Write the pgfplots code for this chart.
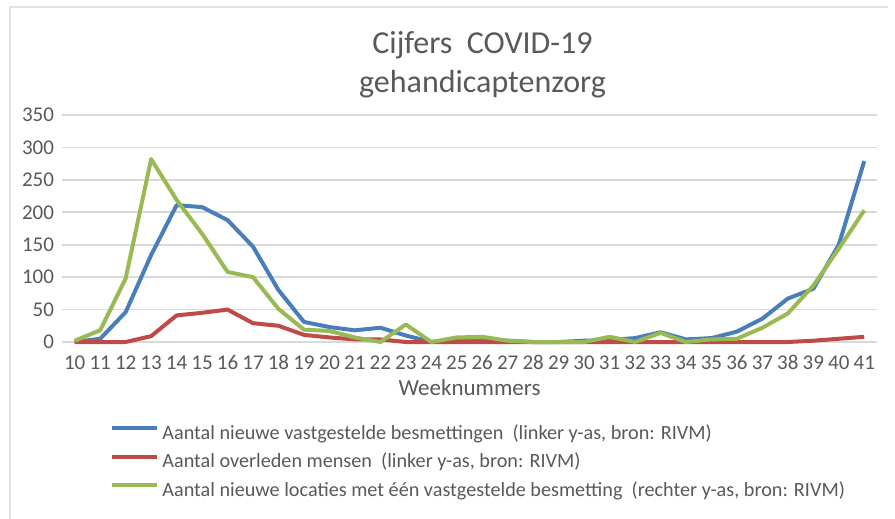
\documentclass[border=0pt]{standalone}
\usepackage{pgfplots}
\pgfplotsset{compat=1.18}
\usepackage{fontspec}
\setmainfont{Carlito}

\definecolor{txtgray}{HTML}{595959}
\definecolor{gridgray}{HTML}{D9D9D9}
\definecolor{xlblue}{HTML}{4A7EBB}
\definecolor{xlred}{HTML}{BE4B48}
\definecolor{xlgreen}{HTML}{98B954}

\begin{document}
\begin{tikzpicture}
% page = 895 x 519 px, 1 px = 0.5pt
\useasboundingbox (0,0) rectangle (447.5pt,-259.5pt);
\draw[gray!22, line width=1pt] (5pt,-259.5pt) -- (5pt,-3.5pt) -- (444pt,-3.5pt);
\begin{axis}[
    at={(31pt,-171pt)}, anchor=south west,
    scale only axis,
    width=407.5pt, height=113.5pt,
    xmin=9.5, xmax=41.5,
    ymin=0, ymax=350,
    xtick={10,...,41},
    ytick={0,50,...,350},
    ymajorgrids,
    grid style={gridgray, line width=0.8pt},
    axis line style={draw=none},
    major tick length=0pt,
    clip=false,
    /pgf/number format/assume math mode=true,
    tick label style={font=\fontsize{10.5}{12}\selectfont, text=txtgray},
    xticklabel style={anchor=base, yshift=-13.5pt},
    yticklabel style={xshift=-0.5pt},
    xlabel={Weeknummers},
    xlabel style={at={(axis description cs:0.5,0)}, anchor=center, yshift=-23pt,
        font=\fontsize{11.5}{13}\selectfont, text=txtgray},
    title={Cijfers\ \ COVID-19\\[3pt]gehandicaptenzorg},
    title style={at={(axis description cs:0.516,1.315)}, anchor=north, align=center,
        inner sep=0pt, font=\fontsize{16}{16.5}\selectfont, text=txtgray},
    legend style={at={(axis description cs:0.0589,-0.366)}, anchor=north west,
        draw=none, fill=none, inner sep=0pt, row sep=5.25pt,
        font=\fontsize{10.1}{12}\selectfont, text=txtgray,
        nodes={text height=7pt, text depth=2pt, inner ysep=0pt, inner xsep=1.5pt}},
    legend cell align=left,
    legend image code/.code={\draw[#1] (0pt,3pt) -- (22.5pt,3pt);},
    every axis plot/.append style={line width=2pt, line join=round},
]
\addplot[xlblue] coordinates {
 (10,0) (11,5) (12,46) (13,134) (14,211) (15,208) (16,188) (17,147) (18,80)
 (19,31) (20,23) (21,18) (22,22) (23,10) (24,0) (25,4) (26,5) (27,2) (28,0)
 (29,0) (30,2) (31,3) (32,6) (33,15) (34,4) (35,6) (36,16) (37,36) (38,67)
 (39,82) (40,150) (41,279)
};
\addlegendentry{Aantal nieuwe vastgestelde besmettingen\ \ (linker y-as, bron: RIVM)}
\addplot[xlred] coordinates {
 (10,0) (11,0) (12,0) (13,9) (14,41) (15,45) (16,50) (17,29) (18,25) (19,11)
 (20,7) (21,4) (22,4) (23,0) (24,0) (25,0) (26,0) (27,0) (28,0) (29,0) (30,0)
 (31,0) (32,0) (33,0) (34,0) (35,0) (36,0) (37,0) (38,0) (39,2) (40,5) (41,8)
};
\addlegendentry{Aantal overleden mensen\ \ (linker y-as, bron: RIVM)}
\addplot[xlgreen] coordinates {
 (10,2) (11,18) (12,98) (13,282) (14,219) (15,167) (16,108) (17,100) (18,51)
 (19,19) (20,17) (21,7) (22,0) (23,27) (24,0) (25,7) (26,8) (27,2) (28,0)
 (29,0) (30,0) (31,8) (32,0) (33,14) (34,0) (35,4) (36,5) (37,22) (38,44)
 (39,87) (40,144) (41,203)
};
\addlegendentry{Aantal nieuwe locaties met één vastgestelde besmetting\ \ (rechter y-as, bron: RIVM)}
\end{axis}
\end{tikzpicture}
\end{document}
